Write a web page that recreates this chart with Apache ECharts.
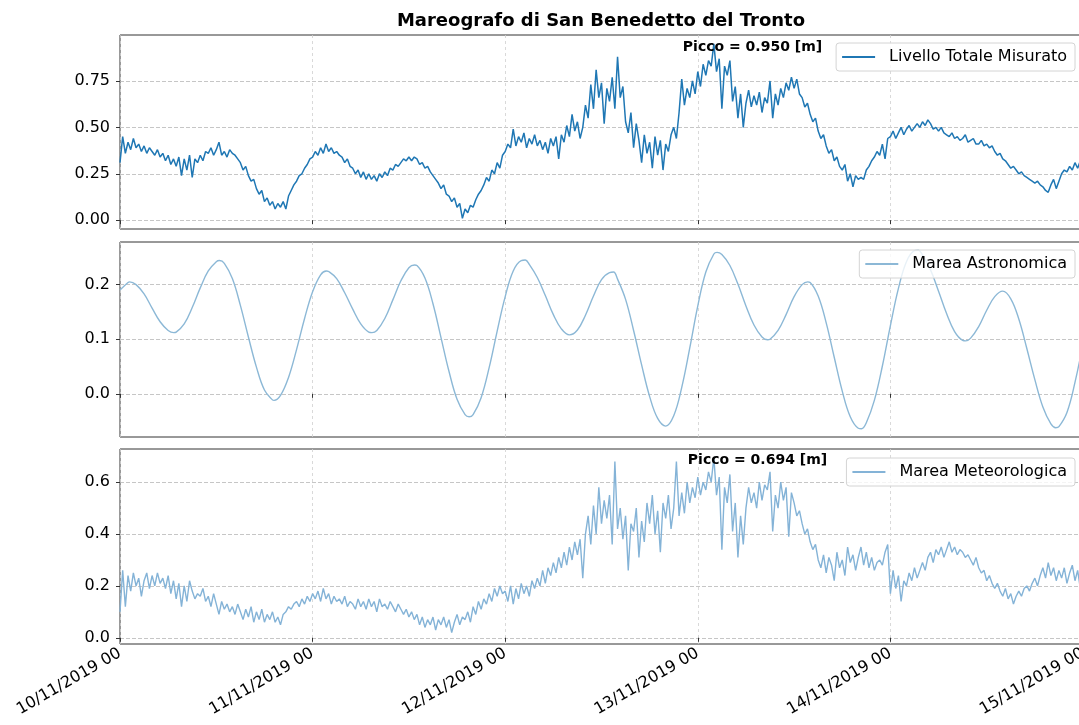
<!DOCTYPE html>
<html>
<head>
<meta charset="utf-8">
<title>Mareografo di San Benedetto del Tronto</title>
<script src="https://cdn.jsdelivr.net/npm/echarts@6/dist/echarts.min.js"></script>
<style>
  html, body { margin: 0; padding: 0; background: #fff; }
  #chart { width: 1079px; height: 725px; }
</style>
</head>
<body>
<div id="chart"></div>
<script>
// Tick labels of the shared time axis (one per day, hours since 10/11/2019 00)
const dayLabels = ['10/11/2019 00', '11/11/2019 00', '12/11/2019 00', '13/11/2019 00', '14/11/2019 00', '15/11/2019 00'];

const seriesNames = ['Livello Totale Misurato', 'Marea Astronomica', 'Marea Meteorologica'];

// Measured total level [m], one sample every 20 minutes
const totalLevel = [
  0.31,0.45,0.36, 0.42,0.38,0.44, 0.39,0.41,0.37, 0.40,0.36,0.39, 0.37,0.35,0.38, 0.34,0.36,0.32, 0.35,0.30,0.33, 0.29,0.34,0.24, 0.33,0.27,0.35, 0.23,0.33,0.31,
  0.35,0.32,0.37, 0.36,0.39,0.35, 0.38,0.42,0.35, 0.37,0.34,0.38, 0.36,0.35,0.33, 0.31,0.27,0.29, 0.24,0.21,0.22, 0.17,0.14,0.16, 0.10,0.12,0.08, 0.10,0.06,0.09,
  0.07,0.10,0.06, 0.13,0.16,0.19, 0.21,0.24,0.25, 0.28,0.30,0.33, 0.34,0.37,0.35, 0.39,0.36,0.41, 0.37,0.39,0.36, 0.37,0.35,0.34, 0.31,0.33,0.29, 0.28,0.25,0.27,
  0.23,0.26,0.22, 0.25,0.22,0.24, 0.21,0.25,0.23, 0.26,0.24,0.28, 0.27,0.30,0.29, 0.31,0.33,0.32, 0.34,0.32,0.34, 0.33,0.30,0.31, 0.28,0.29,0.26, 0.24,0.22,0.20,
  0.17,0.19,0.14, 0.13,0.10,0.12, 0.07,0.09,0.01, 0.06,0.04,0.08, 0.07,0.11,0.14, 0.16,0.19,0.23, 0.21,0.27,0.25, 0.31,0.28,0.35, 0.37,0.41,0.39, 0.49,0.40,0.45,
  0.42,0.47,0.39, 0.44,0.41,0.46, 0.40,0.43,0.38, 0.42,0.36,0.44, 0.40,0.45,0.33, 0.46,0.42,0.51, 0.45,0.57,0.48, 0.53,0.44,0.50, 0.62,0.55,0.73, 0.60,0.81,0.66,
  0.74,0.52,0.71, 0.64,0.77,0.60, 0.88,0.66,0.72, 0.53,0.47,0.58, 0.39,0.52,0.43, 0.31,0.46,0.36, 0.42,0.28,0.45, 0.35,0.43,0.27, 0.41,0.37,0.46, 0.50,0.44,0.58,
  0.76,0.62,0.71, 0.66,0.75,0.68, 0.80,0.72,0.84, 0.78,0.86,0.83, 0.950,0.80,0.87, 0.60,0.83,0.78, 0.86,0.64,0.72, 0.55,0.68,0.50, 0.63,0.70,0.61, 0.67,0.62,0.69,
  0.58,0.66,0.63, 0.75,0.55,0.68, 0.62,0.71,0.66, 0.74,0.70,0.77, 0.71,0.76,0.68, 0.66,0.61,0.63, 0.57,0.53,0.55, 0.48,0.44,0.46, 0.40,0.36,0.38, 0.32,0.34,0.29,
  0.27,0.30,0.21, 0.25,0.18,0.24, 0.22,0.23,0.22, 0.27,0.29,0.32, 0.34,0.37,0.35, 0.41,0.33,0.44, 0.45,0.48,0.44, 0.47,0.50,0.46, 0.49,0.51,0.48, 0.50,0.52,0.50,
  0.53,0.51,0.54, 0.52,0.49,0.50, 0.48,0.50,0.47, 0.46,0.45,0.47, 0.44,0.45,0.43, 0.44,0.46,0.42, 0.43,0.44,0.41, 0.41,0.43,0.40, 0.41,0.39,0.40, 0.37,0.35,0.36,
  0.33,0.32,0.30, 0.28,0.29,0.27, 0.25,0.26,0.24, 0.23,0.22,0.21, 0.20,0.21,0.19, 0.18,0.16,0.15, 0.19,0.22,0.17, 0.21,0.25,0.27, 0.26,0.29,0.27, 0.31,0.28,0.32,
  0.30
];

// Astronomical tide: sample times [h] (hourly plus the turning points) and levels [m]
const astroHours = [
  0, 1, 1.2, 2, 3, 4, 5, 6, 6.7, 7, 8, 9, 10, 11, 12, 12.4,
  13, 14, 15, 16, 17, 18, 19, 19.2, 20, 21, 22, 23, 24, 25, 25.7,
  26, 27, 28, 29, 30, 31, 31.4, 32, 33, 34, 35, 36, 36.7,
  37, 38, 39, 40, 41, 42, 43, 43.5, 44, 45, 46, 47, 48, 49, 50, 50.5,
  51, 52, 53, 54, 55, 56, 57, 58, 59, 60, 61, 61.5,
  62, 63, 64, 65, 66, 67, 68, 69, 70, 71, 72, 73, 74, 74.4,
  75, 76, 77, 78, 79, 80, 80.7, 81, 82, 83, 84, 85, 85.7,
  86, 87, 88, 89, 90, 91, 92, 92.4, 93, 94, 95, 96, 97, 98, 99, 99.5,
  100, 101, 102, 103, 104, 105, 105.4, 106, 107, 108, 109, 110,
  111, 112, 113, 114, 115, 116, 116.6, 117, 118, 119, 120
];
const astroTide = [
  0.190, 0.204, 0.205, 0.200, 0.183, 0.157, 0.132, 0.116, 0.112, 0.113, 0.128, 0.158, 0.194, 0.225, 0.242, 0.244,
  0.239, 0.211, 0.162, 0.104, 0.049, 0.007, -0.011, -0.012, -0.003, 0.030, 0.081, 0.138, 0.187, 0.218, 0.225,
  0.224, 0.211, 0.185, 0.155, 0.128, 0.113, 0.112, 0.116, 0.138, 0.172, 0.207, 0.231, 0.236,
  0.235, 0.212, 0.165, 0.103, 0.041, -0.010, -0.038, -0.042, -0.038, -0.007, 0.048, 0.115, 0.178, 0.225, 0.244, 0.245,
  0.237, 0.213, 0.180, 0.145, 0.119, 0.108, 0.117, 0.144, 0.179, 0.209, 0.222, 0.223,
  0.210, 0.173, 0.116, 0.053, -0.005, -0.045, -0.059, -0.040, 0.012, 0.084, 0.161, 0.223, 0.256, 0.259,
  0.255, 0.235, 0.201, 0.161, 0.126, 0.104, 0.099, 0.100, 0.116, 0.145, 0.178, 0.200, 0.205,
  0.204, 0.179, 0.130, 0.067, 0.005, -0.042, -0.063, -0.064, -0.053, -0.012, 0.051, 0.125, 0.193, 0.242, 0.262, 0.263,
  0.254, 0.227, 0.188, 0.147, 0.114, 0.098, 0.097, 0.102, 0.123, 0.153, 0.178, 0.188,
  0.174, 0.137, 0.083, 0.026, -0.024, -0.055, -0.062, -0.060, -0.034, 0.021, 0.092
];

// Meteorological surge [m], one sample every 20 minutes
const meteoSurge = [
  0.10,0.26,0.12, 0.24,0.18,0.25, 0.20,0.23,0.16, 0.22,0.25,0.19, 0.24,0.20,0.25, 0.21,0.23,0.19, 0.24,0.17,0.22, 0.15,0.21,0.12, 0.20,0.14,0.22, 0.18,0.15,0.17,
  0.16,0.19,0.14, 0.16,0.12,0.17, 0.13,0.09,0.14, 0.11,0.13,0.10, 0.12,0.09,0.13, 0.10,0.07,0.11, 0.08,0.12,0.06, 0.10,0.07,0.11, 0.06,0.09,0.07, 0.10,0.06,0.08,
  0.05,0.09,0.10, 0.12,0.11,0.13, 0.14,0.12,0.15, 0.13,0.16,0.14, 0.17,0.15,0.18, 0.14,0.19,0.15, 0.17,0.13,0.16, 0.14,0.15,0.13, 0.16,0.12,0.14, 0.13,0.11,0.15,
  0.12,0.14,0.11, 0.15,0.12,0.14, 0.10,0.15,0.12, 0.13,0.11,0.14, 0.12,0.10,0.13, 0.11,0.09,0.11, 0.08,0.10,0.07, 0.09,0.05,0.08, 0.04,0.07,0.05, 0.08,0.03,0.07,
  0.05,0.08,0.04, 0.07,0.02,0.06, 0.09,0.05,0.08, 0.07,0.10,0.06, 0.12,0.09,0.14, 0.11,0.15,0.13, 0.17,0.14,0.19, 0.16,0.20,0.17, 0.18,0.14,0.20, 0.13,0.19,0.15,
  0.21,0.17,0.20, 0.16,0.22,0.19, 0.23,0.20,0.26, 0.21,0.27,0.24, 0.29,0.25,0.31, 0.27,0.33,0.28, 0.35,0.30,0.37, 0.32,0.38,0.23, 0.40,0.47,0.36, 0.51,0.40,0.58,
  0.44,0.53,0.46, 0.55,0.36,0.68, 0.42,0.50,0.38, 0.47,0.26,0.44, 0.41,0.50,0.31, 0.45,0.37,0.52, 0.44,0.55,0.40, 0.49,0.33,0.52, 0.46,0.55,0.42, 0.50,0.68,0.47,
  0.56,0.48,0.60, 0.52,0.58,0.54, 0.62,0.55,0.60, 0.57,0.64,0.60, 0.694,0.55,0.62, 0.34,0.58,0.52, 0.63,0.41,0.52, 0.31,0.47,0.36, 0.50,0.58,0.52, 0.56,0.50,0.60,
  0.53,0.59,0.57, 0.64,0.41,0.55, 0.50,0.60,0.53, 0.58,0.39,0.56, 0.52,0.47,0.49, 0.44,0.40,0.42, 0.37,0.34,0.36, 0.30,0.27,0.32, 0.25,0.31,0.28, 0.22,0.33,0.27,
  0.30,0.24,0.35, 0.29,0.32,0.26, 0.31,0.35,0.28, 0.33,0.27,0.31, 0.26,0.29,0.30, 0.28,0.33,0.36, 0.17,0.26,0.19, 0.24,0.14,0.22, 0.20,0.25,0.22, 0.27,0.23,0.26,
  0.29,0.26,0.31, 0.33,0.29,0.34, 0.32,0.35,0.31, 0.34,0.37,0.33, 0.35,0.32,0.34, 0.33,0.31,0.32, 0.30,0.28,0.31, 0.27,0.25,0.26, 0.22,0.24,0.21, 0.19,0.21,0.18,
  0.16,0.19,0.15, 0.17,0.13,0.16, 0.18,0.16,0.19, 0.20,0.18,0.21, 0.23,0.20,0.24, 0.27,0.23,0.29, 0.24,0.27,0.22, 0.26,0.23,0.27, 0.21,0.25,0.28, 0.22,0.26,0.19,
  0.21
];

// Sampling step of the measured series, in hours
const STEP_20MIN = 1 / 3;

const FONT = '"DejaVu Sans", "Liberation Sans", sans-serif';
const COLOR_TOTAL = '#1f77b4';
const COLOR_ASTRO = '#8cb8d6';
const COLOR_METEO = '#84b3d7';

const toPairs = (vals, step) => vals.map((v, i) => [i * step, v]);

const chart = echarts.init(document.getElementById('chart'), null, { renderer: 'canvas' });

// Three stacked panels sharing the same time span
const panels = [
  { top: 35, height: 194, min: -0.0475, max: 0.9975, ticks: [0, 0.25, 0.5, 0.75], step: 0.25, digits: 2 },
  { top: 242, height: 195, min: -0.079, max: 0.278, ticks: [0, 0.1, 0.2], step: 0.1, digits: 1 },
  { top: 449, height: 195, min: -0.024, max: 0.728, ticks: [0, 0.2, 0.4, 0.6], step: 0.2, digits: 1 }
];

const grids = panels.map(p => ({
  left: 120, top: p.top, width: 963, height: p.height,
  outerBoundsMode: 'none', containLabel: false,
  show: true, borderColor: '#333', borderWidth: 1, backgroundColor: 'transparent'
}));

const xAxes = panels.map((p, i) => ({
  type: 'value', gridIndex: i, min: 0, max: 120, interval: 24,
  axisLine: { show: false },
  axisTick: { show: true, length: 4, lineStyle: { color: '#333', width: 1 } },
  splitLine: { show: true, lineStyle: { color: '#d0d0d0', type: [3, 3], width: 0.8 } },
  axisLabel: {
    show: i === 2, rotate: 30, margin: 8, hideOverlap: false,
    fontFamily: FONT, fontSize: 16, color: '#000',
    formatter: v => dayLabels[Math.round(v / 24)]
  }
}));

const yAxes = panels.map((p, i) => ({
  type: 'value', gridIndex: i, min: p.min, max: p.max,
  minInterval: p.step, maxInterval: p.step,
  axisLine: { show: false },
  axisTick: { show: true, length: 4, customValues: p.ticks, lineStyle: { color: '#333', width: 1 } },
  splitLine: { show: true, lineStyle: { color: '#b8b8b8', type: [4, 2], width: 0.8 } },
  axisLabel: {
    customValues: p.ticks,
    margin: 10, fontFamily: FONT, fontSize: 16, color: '#000',
    formatter: v => v.toFixed(p.digits)
  }
}));

const legendBase = {
  orient: 'vertical', right: 4, selectedMode: false,
  backgroundColor: 'rgba(255,255,255,0.8)', borderColor: '#d4d4d4', borderWidth: 1, borderRadius: 3,
  padding: [5, 8, 5, 6], itemWidth: 33, itemHeight: 2, icon: 'rect',
  textStyle: { fontFamily: FONT, fontSize: 16, color: '#000', padding: [0, 0, 0, 9], lineHeight: 18 }
};

const peakLabel = (dx, dy) => ({
  symbol: 'circle', symbolSize: 0, silent: true,
  data: [{ type: 'max', valueDim: 'y', name: 'Picco' }],
  label: {
    show: true, position: [0, 0], align: 'left', verticalAlign: 'middle', offset: [dx, dy],
    fontFamily: FONT, fontSize: 14, fontWeight: 'bold', color: '#000',
    formatter: p => 'Picco = ' + Number(p.value).toFixed(3) + ' [m]'
  }
});

chart.setOption({
  animation: false,
  backgroundColor: '#fff',
  graphic: [{
    type: 'text', x: 601, y: 21, silent: true,
    style: {
      text: 'Mareografo di San Benedetto del Tronto',
      font: 'bold 18px ' + FONT, fill: '#000',
      textAlign: 'center', textVerticalAlign: 'middle', align: 'center', verticalAlign: 'middle'
    }
  }],
  grid: grids,
  xAxis: xAxes,
  yAxis: yAxes,
  legend: [
    Object.assign({}, legendBase, { top: 43, data: [seriesNames[0]] }),
    Object.assign({}, legendBase, { top: 250, data: [seriesNames[1]] }),
    Object.assign({}, legendBase, { top: 458, data: [seriesNames[2]] })
  ],
  series: [
    {
      name: seriesNames[0], type: 'line', xAxisIndex: 0, yAxisIndex: 0,
      data: toPairs(totalLevel, STEP_20MIN), symbol: 'none',
      lineStyle: { color: COLOR_TOTAL, width: 1.5 }, itemStyle: { color: COLOR_TOTAL },
      markPoint: peakLabel(-31, 4)
    },
    {
      name: seriesNames[1], type: 'line', xAxisIndex: 1, yAxisIndex: 1,
      data: astroHours.map((h, i) => [h, astroTide[i]]), symbol: 'none', smooth: 0.4,
      lineStyle: { color: COLOR_ASTRO, width: 1.4 }, itemStyle: { color: COLOR_ASTRO }
    },
    {
      name: seriesNames[2], type: 'line', xAxisIndex: 2, yAxisIndex: 2,
      data: toPairs(meteoSurge, STEP_20MIN), symbol: 'none',
      lineStyle: { color: COLOR_METEO, width: 1.4 }, itemStyle: { color: COLOR_METEO },
      markPoint: peakLabel(-26, 3)
    }
  ]
});
</script>
</body>
</html>
